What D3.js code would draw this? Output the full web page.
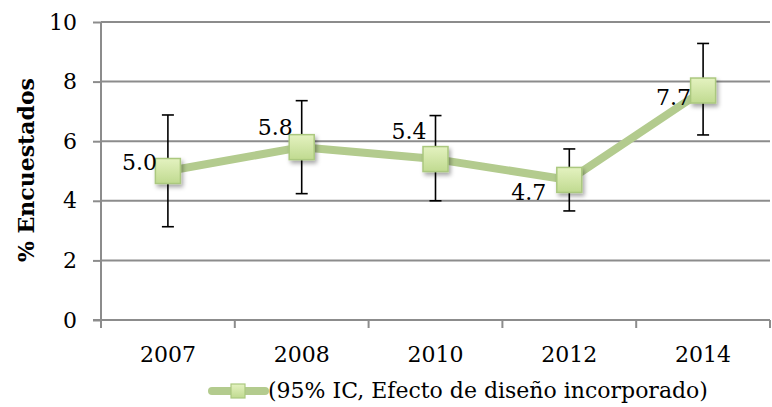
<!DOCTYPE html>
<html><head><meta charset="utf-8">
<script src="https://cdn.jsdelivr.net/npm/d3@7"></script>
<style>body{margin:0;background:#fff}svg{display:block}</style>
</head><body>
<svg id="c" width="772" height="407"></svg>
<script>
const categories = ["2007","2008","2010","2012","2014"];
const values = [5.0, 5.8, 5.4, 4.7, 7.7];
const lower = [3.13, 4.24, 4.0, 3.66, 6.21];
const upper = [6.88, 7.36, 6.86, 5.74, 9.28];
const labels = ["5.0","5.8","5.4","4.7","7.7"];
const yTicks = [0, 2, 4, 6, 8, 10];
const seriesName = "(95% IC, Efecto de diseño incorporado)";
const yTitle = "% Encuestados";
// label offsets (text end / baseline relative to point), styling only
const labelDx = [-11, -9, -9, -23, -12];
const labelDy = [-1, -12, -20, 20, 14];

const FONT = "'DejaVu Serif', serif";
const svg = d3.select("#c");
const x = d3.scaleBand().domain(categories).range([101, 770]).padding(0);
const y = d3.scaleLinear().domain([0, 10]).range([320, 22]);

const defs = svg.append("defs");
const g = defs.append("linearGradient").attr("id","mg").attr("x1",0).attr("y1",0).attr("x2",0).attr("y2",1);
g.append("stop").attr("offset","0%").attr("stop-color","#e4f2c0");
g.append("stop").attr("offset","100%").attr("stop-color","#c0da90");
const f = defs.append("filter").attr("id","sh").attr("x","-50%").attr("y","-50%").attr("width","200%").attr("height","200%");
f.append("feDropShadow").attr("dx",2).attr("dy",3).attr("stdDeviation",2).attr("flood-color","#000").attr("flood-opacity",0.35);

// gridlines
svg.append("g").selectAll("line").data(yTicks.filter(d=>d>0)).join("line")
  .attr("x1",101).attr("x2",770).attr("y1",d=>y(d)).attr("y2",d=>y(d))
  .attr("stroke","#8c8c8c").attr("stroke-width",2);

// y axis
const ya = svg.append("g").attr("transform","translate(101,0)").call(d3.axisLeft(y).tickValues(yTicks).tickSize(8).tickPadding(16).tickFormat(d3.format("d")));
ya.select(".domain").attr("stroke","#8c8c8c").attr("stroke-width",2).attr("d","M0,22V320");
ya.selectAll(".tick line").attr("stroke","#8c8c8c").attr("stroke-width",2);
ya.selectAll(".tick text").attr("font-family",FONT).attr("font-size",22).attr("fill","#000");

// x axis
const xa = svg.append("g").attr("transform","translate(0,320)").call(d3.axisBottom(x).tickSize(0).tickPadding(30));
xa.select(".domain").attr("stroke","#8c8c8c").attr("stroke-width",2).attr("d","M93,0H770");
xa.selectAll(".tick text").attr("font-family",FONT).attr("font-size",22).attr("fill","#000").attr("dy",0).attr("y",42);
// boundary tick marks
const bounds = categories.map(c=>x(c)).concat([x(categories[categories.length-1])+x.bandwidth()]);
xa.append("g").selectAll("line").data(bounds).join("line")
  .attr("x1",d=>d).attr("x2",d=>d).attr("y1",0).attr("y2",8)
  .attr("stroke","#8c8c8c").attr("stroke-width",2);

const cx = i => x(categories[i]) + x.bandwidth()/2;

// line
svg.append("path").datum(values)
  .attr("d", d3.line().x((d,i)=>cx(i)).y(d=>y(d)))
  .attr("fill","none").attr("stroke","#b3cb8e").attr("stroke-width",8).attr("stroke-linejoin","round");

// error bars
const eb = svg.append("g").attr("stroke","#000").attr("stroke-width",1.6);
values.forEach((v,i)=>{
  eb.append("line").attr("x1",cx(i)).attr("x2",cx(i)).attr("y1",y(lower[i])).attr("y2",y(upper[i]));
  eb.append("line").attr("x1",cx(i)-6).attr("x2",cx(i)+6).attr("y1",y(lower[i])).attr("y2",y(lower[i]));
  eb.append("line").attr("x1",cx(i)-6).attr("x2",cx(i)+6).attr("y1",y(upper[i])).attr("y2",y(upper[i]));
});

// markers
svg.append("g").selectAll("rect").data(values).join("rect")
  .attr("x",(d,i)=>cx(i)-12.5).attr("y",d=>y(d)-12.5).attr("width",25).attr("height",25)
  .attr("fill","url(#mg)").attr("stroke","#abc87f").attr("stroke-width",1.5)
  .attr("filter","url(#sh)");

// data labels
svg.append("g").selectAll("text").data(values).join("text")
  .attr("x",(d,i)=>cx(i)+labelDx[i]).attr("y",(d,i)=>y(d)+labelDy[i])
  .attr("text-anchor","end").attr("font-family",FONT).attr("font-size",22).attr("fill","#000")
  .text((d,i)=>labels[i]);

// y title
svg.append("text").attr("transform","translate(34,170) rotate(-90)")
  .attr("text-anchor","middle").attr("font-family",FONT).attr("font-weight","bold").attr("font-size",22)
  .attr("textLength",184).attr("lengthAdjust","spacingAndGlyphs")
  .text(yTitle);

// legend
const lg = svg.append("g");
lg.append("line").attr("x1",212).attr("x2",265).attr("y1",391).attr("y2",391)
  .attr("stroke","#b3cb8e").attr("stroke-width",8).attr("stroke-linecap","round");
lg.append("rect").attr("x",231).attr("y",384).attr("width",14).attr("height",14)
  .attr("fill","url(#mg)").attr("stroke","#abc87f").attr("stroke-width",1.2);
lg.append("text").attr("x",268).attr("y",398).attr("font-family",FONT).attr("font-size",22).attr("fill","#000").text(seriesName);
</script>
</body></html>
